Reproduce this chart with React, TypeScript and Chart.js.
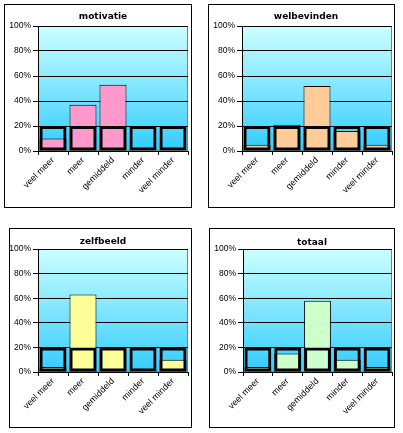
import React, { useEffect, useRef } from "react";
import { Chart, registerables } from "chart.js";

Chart.register(...registerables);

const categories = ["veel meer", "meer", "gemiddeld", "minder", "veel minder"];
const motivatie = [10, 37, 53, 0, 0];
const welbevinden = [5, 21, 52, 16, 5];
const zelfbeeld = [4, 63, 20, 0, 10];
const totaal = [4, 15, 58, 10, 4];
const expected = [20, 20, 20, 20, 20];
const yMin = 0;
const yMax = 100;
const yStep = 20;

type PanelSpec = {
  title: string;
  values: number[];
  color: string;
  box: [number, number, number, number]; // left, top, right, bottom (page px, inclusive)
  plot: [number, number, number, number]; // left, top, right, bottom (page px)
  titlePos: [number, number];
};

const panels: PanelSpec[] = [
  { title: "motivatie", values: motivatie, color: "#FF99CC", box: [4, 4, 191, 207], plot: [38, 26, 188, 151], titlePos: [103, 17] },
  { title: "welbevinden", values: welbevinden, color: "#FFCC99", box: [208, 4, 394, 207], plot: [242, 26, 392, 151], titlePos: [306, 17] },
  { title: "zelfbeeld", values: zelfbeeld, color: "#FFFF99", box: [9, 228, 191, 427], plot: [38, 249, 188, 372], titlePos: [103, 242] },
  { title: "totaal", values: totaal, color: "#CCFFCC", box: [209, 228, 394, 427], plot: [243, 249, 392, 372], titlePos: [312, 243] },
];

const FONT = "'Liberation Sans', Arial, sans-serif";

function Panel({ spec }: { spec: PanelSpec }) {
  const ref = useRef<HTMLCanvasElement | null>(null);
  const [bl, bt, br, bb] = spec.box;
  const w = br - bl + 1;
  const h = bb - bt + 1;
  const cw = w - 2;
  const ch = h - 2;
  const ox = bl + 1;
  const oy = bt + 1;
  const pl = spec.plot[0] - ox;
  const pt = spec.plot[1] - oy;
  const pr = spec.plot[2] - ox;
  const pb = spec.plot[3] - oy;

  useEffect(() => {
    if (!ref.current) return;
    const bgPlugin = {
      id: "bg",
      beforeDraw(chart: any) {
        const { ctx, chartArea: a } = chart;
        ctx.save();
        const g = ctx.createLinearGradient(0, a.top, 0, a.bottom);
        g.addColorStop(0, "#CCFFFF");
        g.addColorStop(1, "#33CCFF");
        ctx.fillStyle = g;
        ctx.fillRect(a.left, a.top, a.right - a.left, a.bottom - a.top);
        ctx.strokeStyle = "#808080";
        ctx.lineWidth = 1;
        ctx.strokeRect(a.left + 0.5, a.top + 0.5, a.right - a.left - 1, a.bottom - a.top - 1);
        ctx.restore();
      },
      afterDraw(chart: any) {
        const { ctx } = chart;
        ctx.save();
        ctx.font = "bold 9px 'DejaVu Sans', Verdana, sans-serif";
        ctx.fillStyle = "#000";
        ctx.textAlign = "center";
        ctx.textBaseline = "middle";
        ctx.fillText(spec.title, spec.titlePos[0] - ox, spec.titlePos[1] - oy);
        ctx.restore();
      },
    };
    const chart = new Chart(ref.current, {
      type: "bar",
      data: {
        labels: categories,
        datasets: [
          {
            data: spec.values,
            backgroundColor: spec.color,
            borderColor: "#000",
            borderWidth: 1,
            borderSkipped: false,
            grouped: false,
            order: 1,
            barPercentage: 0.9,
            categoryPercentage: 1,
          } as any,
          {
            data: expected,
            backgroundColor: "rgba(0,0,0,0)",
            borderColor: "#000",
            borderWidth: 3,
            borderSkipped: false,
            grouped: false,
            order: 0,
            barPercentage: 0.9,
            categoryPercentage: 1,
          } as any,
        ],
      },
      options: {
        responsive: false,
        animation: false,
        devicePixelRatio: 1,
        events: [],
        layout: { padding: { left: 0, top: pt, right: cw - pr, bottom: 0 } },
        plugins: { legend: { display: false }, tooltip: { enabled: false }, title: { display: false } },
        scales: {
          x: {
            type: "category",
            grid: { offset: true, drawOnChartArea: false, color: "#000", tickLength: 4 },
            border: { color: "#000" },
            ticks: {
              autoSkip: false,
              minRotation: 45,
              maxRotation: 45,
              padding: 0,
              color: "#000",
              font: { family: FONT, size: 9 },
            },
            afterFit(scale: any) {
              scale.height = ch - pb;
            },
          },
          y: {
            min: yMin,
            max: yMax,
            grid: { color: "#000", tickLength: 5 },
            border: { color: "#000" },
            ticks: {
              stepSize: yStep,
              padding: 2,
              color: "#000",
              font: { family: FONT, size: 8.5 },
              callback: (v: any) => v + "%",
            },
            afterFit(scale: any) {
              scale.width = pl;
            },
          },
        },
      } as any,
      plugins: [bgPlugin],
    });
    return () => chart.destroy();
  }, []);

  return (
    <div
      style={{
        position: "absolute",
        left: bl,
        top: bt,
        width: w,
        height: h,
        border: "1px solid #000",
        boxSizing: "border-box",
        background: "#fff",
      }}
    >
      <canvas ref={ref} width={cw} height={ch} style={{ display: "block", width: cw, height: ch }} />
    </div>
  );
}

export default function App() {
  return (
    <div style={{ position: "absolute", left: 0, top: 0, width: 403, height: 433, background: "#fff" }}>
      {panels.map((p) => (
        <Panel key={p.title} spec={p} />
      ))}
    </div>
  );
}
